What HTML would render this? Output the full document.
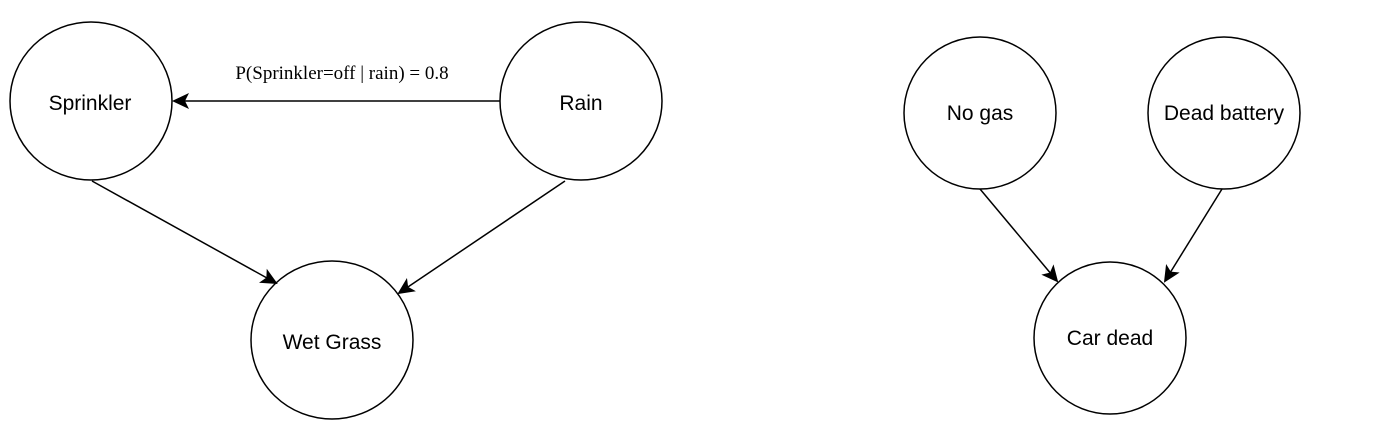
<!DOCTYPE html>
<html><head><meta charset="utf-8"><style>
html,body{margin:0;padding:0;background:#fff;width:1400px;height:430px;overflow:hidden}
svg text{font-family:"Liberation Sans",Arial,sans-serif;font-size:21px;fill:#000}
</style></head><body>
<svg width="1400" height="430" viewBox="0 0 1400 430">
<defs><marker id="ah" markerWidth="18" markerHeight="16" refX="15" refY="8" orient="auto" markerUnits="userSpaceOnUse">
<path d="M0,0 L17,8 L0,16 L4,8 Z" fill="#000"/></marker></defs>
<g fill="none" stroke="#000" stroke-width="1.5">
<ellipse cx="91" cy="101" rx="81" ry="79"/>
<ellipse cx="581" cy="101" rx="81" ry="79"/>
<ellipse cx="332" cy="340" rx="81" ry="79"/>
<ellipse cx="980" cy="113" rx="76" ry="76"/>
<ellipse cx="1224" cy="113" rx="76" ry="76"/>
<ellipse cx="1110" cy="338" rx="76" ry="76"/>
<line x1="500" y1="101" x2="174" y2="101" marker-end="url(#ah)"/>
<line x1="92" y1="181" x2="276" y2="283" marker-end="url(#ah)"/>
<line x1="565" y1="181" x2="399" y2="293" marker-end="url(#ah)"/>
<line x1="980" y1="189" x2="1057" y2="281" marker-end="url(#ah)"/>
<line x1="1222" y1="189" x2="1165" y2="281" marker-end="url(#ah)"/>
</g>
<text x="342" y="79" text-anchor="middle" style="font-family:'Liberation Serif',serif;font-size:19px">P(Sprinkler=off | rain) = 0.8</text>
<text x="90" y="110" text-anchor="middle">Sprinkler</text>
<text x="581" y="110" text-anchor="middle">Rain</text>
<text x="332" y="349" text-anchor="middle">Wet Grass</text>
<text x="980" y="120" text-anchor="middle">No gas</text>
<text x="1224" y="120" text-anchor="middle">Dead battery</text>
<text x="1110" y="345" text-anchor="middle">Car dead</text>
</svg>
</body></html>
